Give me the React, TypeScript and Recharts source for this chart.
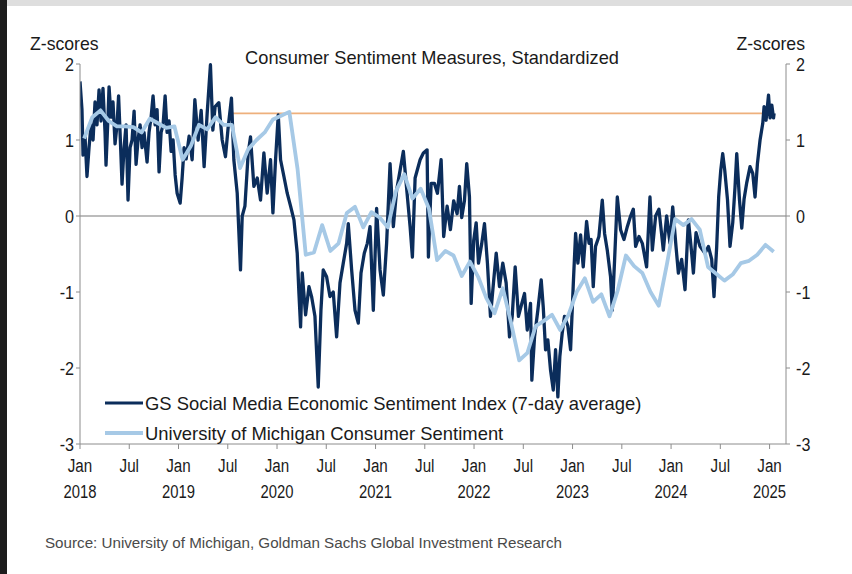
import React from 'react';
import { LineChart, Line, XAxis, YAxis, ReferenceLine } from 'recharts';

const W = 852;
const H = 574;

// x axis: months since Jan 2018
const xTicks = [0, 6, 12, 18, 24, 30, 36, 42, 48, 54, 60, 66, 72, 78, 84];
const monthLabels = ['Jan', 'Jul'];
const yearLabels = ['2018', '2019', '2020', '2021', '2022', '2023', '2024', '2025'];
const yTicks = [-3, -2, -1, 0, 1, 2];

const chartTitle = 'Consumer Sentiment Measures, Standardized';
const axisUnit = 'Z-scores';
const gsName = 'GS Social Media Economic Sentiment Index (7-day average)';
const umName = 'University of Michigan Consumer Sentiment';
const sourceText = 'Source: University of Michigan, Goldman Sachs Global Investment Research';

// Pre-pandemic level marker (orange line)
const markerLevel = 1.35;
const markerStart = 18.5;
const markerEnd = 84.5;

// University of Michigan, monthly z-scores, Jan 2018 .. Jan 2025
const umichValues = [
  1.02, 1.30, 1.39, 1.25, 1.18, 1.18, 1.17, 1.10, 1.28, 1.22, 1.16, 1.18,
  0.74, 0.92, 1.20, 1.14, 1.30, 1.20, 1.20, 0.63, 0.88, 1.00, 1.10, 1.27,
  1.32, 1.37, 0.62, -0.51, -0.48, -0.12, -0.46, -0.36, 0.04, 0.12, -0.15, 0.05,
  -0.02, -0.15, 0.33, 0.55, 0.23, 0.36, 0.10, -0.58, -0.46, -0.52, -0.79, -0.60,
  -0.80, -1.08, -1.28, -0.95, -1.40, -1.90, -1.80, -1.45, -1.38, -1.30, -1.50, -1.30,
  -1.00, -0.82, -1.13, -1.03, -1.32, -0.98, -0.52, -0.66, -0.75, -1.00, -1.18, -0.63,
  -0.04, -0.12, -0.04, -0.18, -0.67, -0.76, -0.85, -0.77, -0.62, -0.59, -0.51, -0.38,
  -0.47,
];

// GS social media sentiment: [months since Jan 2018, z-score]
const gsPoints: [number, number][] = [
  [0.0, 1.77], [0.24, 1.4], [0.37, 0.8], [0.61, 1.05], [0.85, 0.52], [1.1, 0.9], [1.34, 1.2],
  [1.59, 1.0], [1.83, 1.5], [2.07, 1.2], [2.32, 1.66], [2.56, 1.25], [2.8, 1.68], [3.05, 1.1],
  [3.17, 0.67], [3.41, 1.3], [3.54, 1.7], [3.78, 1.3], [4.02, 1.5], [4.27, 0.95], [4.51, 1.2],
  [4.7, 1.58], [4.88, 1.1], [5.12, 0.42], [5.37, 0.9], [5.61, 1.2], [5.85, 0.21], [6.1, 0.9],
  [6.34, 1.0], [6.59, 1.38], [6.83, 0.68], [7.07, 1.0], [7.32, 1.2], [7.56, 0.9], [7.8, 1.1],
  [8.17, 0.71], [8.41, 1.1], [8.66, 1.3], [8.9, 1.58], [9.15, 1.2], [9.39, 1.4], [9.63, 0.58],
  [9.88, 1.1], [10.12, 1.2], [10.37, 1.58], [10.61, 1.1], [10.85, 1.25], [11.1, 0.85], [11.34, 1.0],
  [11.59, 0.54], [11.83, 0.3], [12.2, 0.17], [12.44, 0.5], [12.68, 0.9], [12.93, 0.75], [13.29, 1.05],
  [13.66, 0.74], [13.99, 1.53], [14.39, 1.0], [14.76, 1.39], [15.12, 0.65], [15.49, 1.35], [15.89, 1.99],
  [16.18, 1.13], [16.46, 1.44], [16.91, 1.49], [17.32, 1.0], [17.72, 0.78], [18.05, 1.17], [18.45, 1.55],
  [18.74, 0.74], [19.15, 0.3], [19.55, -0.71], [19.76, 0.0], [20.09, 0.13], [20.49, 0.83], [20.77, 1.04],
  [21.18, 0.39], [21.59, 0.5], [21.99, 0.21], [22.4, 0.83], [22.8, 0.3], [23.21, 0.74], [23.5, 0.04],
  [23.82, 0.74], [24.15, 1.33], [24.43, 0.74], [24.84, 0.52], [25.24, 0.3], [25.65, 0.13], [26.06, -0.05],
  [26.46, -0.49], [26.67, -1.02], [26.87, -1.46], [27.07, -0.75], [27.48, -1.3], [27.89, -0.93], [28.21, -1.06],
  [28.62, -1.32], [29.02, -2.25], [29.35, -1.24], [29.63, -0.71], [30.04, -0.8], [30.45, -1.06], [30.85, -1.0],
  [31.26, -1.59], [31.67, -0.88], [32.07, -0.62], [32.48, -0.36], [32.68, -0.1], [33.09, -0.71], [33.5, -1.24],
  [33.9, -1.41], [34.23, -0.75], [34.63, -0.49], [35.0, -0.36], [35.33, -0.14], [35.73, -1.24], [36.13, 0.1],
  [36.55, -0.71], [36.95, -1.04], [37.35, -0.36], [37.77, 0.69], [38.17, -0.14], [38.57, 0.34], [38.99, 0.6],
  [39.39, 0.85], [39.79, 0.36], [40.21, -0.14], [40.49, -0.54], [40.82, 0.5], [41.43, 0.74], [41.83, 0.83],
  [42.28, 0.87], [42.44, -0.54], [42.77, 0.43], [43.17, 0.43], [43.54, 0.3], [43.99, 0.74], [44.3, -0.27],
  [44.72, 0.13], [45.12, -0.18], [45.52, 0.2], [45.94, 0.03], [46.22, 0.39], [46.5, -0.02], [46.83, 0.2],
  [47.11, 0.69], [47.44, 0.25], [47.65, -1.15], [47.96, -0.32], [48.26, -0.09], [48.54, -0.62], [48.94, -0.36],
  [49.27, -0.1], [49.63, -0.62], [50.0, -1.32], [50.4, -0.84], [50.7, -0.49], [51.1, -0.93], [51.5, -0.62],
  [51.91, -0.88], [52.32, -1.59], [52.65, -1.32], [53.01, -0.67], [53.41, -1.32], [53.82, -1.15], [54.15, -1.02],
  [54.48, -1.5], [54.88, -1.15], [55.04, -2.16], [55.37, -1.59], [55.77, -1.24], [56.18, -0.84], [56.43, -1.2],
  [56.71, -1.76], [56.99, -1.63], [57.32, -2.03], [57.65, -2.29], [57.93, -1.76], [58.21, -2.38], [58.45, -1.85],
  [58.74, -1.54], [59.02, -1.32], [59.43, -1.45], [59.76, -1.76], [60.09, -0.89], [60.37, -0.23], [60.65, -0.62],
  [60.98, -0.25], [61.3, -0.67], [61.71, -0.07], [62.01, -0.36], [62.26, -0.31], [62.52, -0.93], [62.8, -0.4],
  [63.21, -0.27], [63.62, 0.21], [63.9, -0.23], [64.23, -0.45], [64.63, -0.8], [64.84, -1.24], [65.12, -0.58],
  [65.45, 0.25], [65.85, -0.18], [66.26, -0.31], [66.67, -0.14], [67.07, 0.0], [67.4, 0.09], [67.68, -0.4],
  [68.09, -0.27], [68.5, -0.36], [69.02, -0.67], [69.43, 0.25], [69.72, -0.45], [70.12, 0.0], [70.52, 0.09],
  [71.06, -0.45], [71.46, 0.0], [71.87, -0.36], [72.2, 0.12], [72.6, -0.4], [72.89, -0.75], [73.29, -0.57],
  [73.7, -0.97], [74.11, -0.05], [74.51, -0.49], [74.72, -0.75], [75.04, -0.22], [75.52, -0.4], [76.13, -0.49],
  [76.55, -0.4], [76.95, -0.57], [77.23, -1.06], [77.56, -0.4], [77.8, 0.25], [78.05, 0.6], [78.29, 0.82],
  [78.54, 0.6], [78.87, 0.22], [79.18, -0.4], [79.51, -0.09], [79.79, 0.38], [80.0, 0.82], [80.33, 0.22],
  [80.61, -0.16], [80.89, 0.22], [81.22, 0.44], [81.62, 0.65], [81.95, 0.56], [82.23, 0.25], [82.52, 0.69],
  [82.84, 1.0], [83.17, 1.22], [83.33, 1.44], [83.57, 1.26], [83.87, 1.59], [84.06, 1.29], [84.27, 1.46],
  [84.48, 1.29], [84.55, 1.35],
];

const NAVY = '#0b2d5b';
const LIGHT = '#a6c9e6';
const ORANGE = '#eeb07c';
const AXIS = '#8c8c8c';
const TXT = '#1a1a1a';
const FONT = "'Liberation Sans', Arial, sans-serif";

const umichData = umichValues.map((v, i) => ({ m: i + 0.5, v }));
const gsData = gsPoints.map(([m, v]) => ({ m, v }));

const NText = (p: { x: number; y: number; size: number; anchor?: 'start' | 'middle' | 'end'; sx?: number; fill?: string; children: React.ReactNode }) => (
  <text
    transform={`translate(${p.x},${p.y}) scale(${p.sx ?? 0.84},1)`}
    textAnchor={p.anchor ?? 'start'}
    fontSize={p.size}
    fontFamily={FONT}
    fill={p.fill ?? TXT}
  >
    {p.children}
  </text>
);

const XTick = (props: any) => {
  const { x, payload } = props;
  const idx = xTicks.indexOf(payload.value);
  const isJan = idx % 2 === 0;
  return (
    <g>
      <NText x={x} y={472} size={19} sx={0.8} anchor="middle">{monthLabels[isJan ? 0 : 1]}</NText>
      {isJan && <NText x={x} y={498} size={19} sx={0.78} anchor="middle">{yearLabels[idx / 2]}</NText>}
    </g>
  );
};

const YTickL = (props: any) => {
  const { y, payload } = props;
  return <NText x={74} y={y + 7} size={19} sx={0.85} anchor="end">{String(payload.value)}</NText>;
};
const YTickR = (props: any) => {
  const { y, payload } = props;
  return <NText x={796} y={y + 7} size={19} sx={0.85} anchor="start">{String(payload.value)}</NText>;
};

export default function App() {
  return (
    <div style={{ position: 'fixed', left: 0, top: 0, width: W, height: H, background: '#ffffff', overflow: 'hidden' }}>
      <LineChart width={W} height={H} margin={{ top: 64, right: 0, bottom: 0, left: 0 }}>
        <XAxis
          type="number"
          dataKey="m"
          domain={[0, 86]}
          ticks={xTicks}
          interval={0}
          allowDataOverflow
          height={130}
          tickSize={5}
          axisLine={{ stroke: AXIS }}
          tickLine={{ stroke: AXIS }}
          tick={<XTick />}
        />
        <YAxis
          yAxisId="l"
          type="number"
          domain={[-3, 2]}
          ticks={yTicks}
          interval={0}
          width={80}
          tickSize={4}
          axisLine={{ stroke: AXIS }}
          tickLine={{ stroke: AXIS }}
          tick={<YTickL />}
        />
        <YAxis
          yAxisId="r"
          orientation="right"
          type="number"
          domain={[-3, 2]}
          ticks={yTicks}
          interval={0}
          width={66}
          tickSize={4}
          axisLine={{ stroke: AXIS }}
          tickLine={{ stroke: AXIS }}
          tick={<YTickR />}
        />
        <ReferenceLine yAxisId="l" y={0} stroke="#7a7a7a" strokeWidth={1.2} />
        <ReferenceLine
          yAxisId="l"
          segment={[{ x: markerStart, y: markerLevel }, { x: markerEnd, y: markerLevel }]}
          stroke={ORANGE}
          strokeWidth={1.6}
        />
        <Line
          yAxisId="r"
          data={umichData}
          dataKey="v"
          stroke="none"
          strokeWidth={0}
          dot={false}
          activeDot={false}
          legendType="none"
          isAnimationActive={false}
        />
        <Line
          yAxisId="l"
          data={gsData}
          dataKey="v"
          type="linear"
          stroke={NAVY}
          strokeWidth={3.3}
          strokeLinejoin="round"
          dot={false}
          isAnimationActive={false}
        />
        <Line
          yAxisId="l"
          data={umichData}
          dataKey="v"
          type="linear"
          stroke={LIGHT}
          strokeWidth={3.8}
          strokeLinejoin="round"
          dot={false}
          isAnimationActive={false}
        />
      </LineChart>
      <svg width={W} height={H} style={{ position: 'absolute', left: 0, top: 0, pointerEvents: 'none' }}>
        <rect x={0} y={0} width={W} height={6} fill="#dedede" />
        <rect x={0} y={0} width={7} height={H} fill="#1c1c1c" />
        <NText x={30} y={50} size={18} sx={0.98}>{axisUnit}</NText>
        <NText x={805} y={50} size={18} sx={0.98} anchor="end">{axisUnit}</NText>
        <NText x={432} y={64} size={19} sx={0.96} anchor="middle">{chartTitle}</NText>
        <line x1={105} x2={143} y1={403} y2={403} stroke={NAVY} strokeWidth={3} />
        <NText x={145} y={410} size={19} sx={0.97}>{gsName}</NText>
        <line x1={105} x2={143} y1={433} y2={433} stroke={LIGHT} strokeWidth={4} />
        <NText x={145} y={440} size={19} sx={0.97}>{umName}</NText>
        <NText x={45} y={548} size={15.5} sx={0.98} fill="#4a4a4a">{sourceText}</NText>
      </svg>
    </div>
  );
}
